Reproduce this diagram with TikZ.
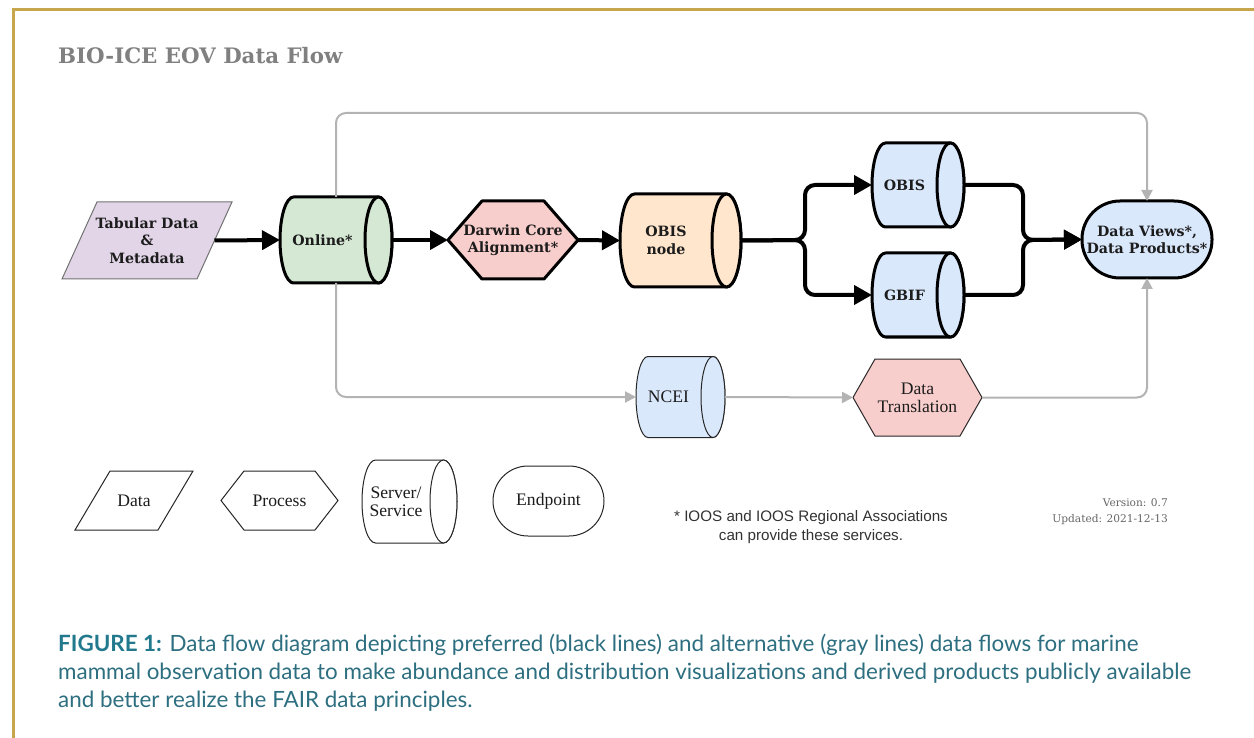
\documentclass[tikz,border=0pt]{standalone}
\usepackage{fontspec}
\setmainfont{DejaVu Serif}
\newfontfamily\lserif{Liberation Serif}
\newfontfamily\lsans{Liberation Sans}
\newfontfamily\capfont{Lato}
\usetikzlibrary{arrows.meta}
\definecolor{gold}{HTML}{C8A64E}
\definecolor{altgray}{HTML}{B3B3B3}
\definecolor{titlegray}{HTML}{808080}
\definecolor{teal}{HTML}{2D6F80}
\definecolor{tealb}{HTML}{22798D}
\definecolor{cgreen}{HTML}{D5E8D4}
\definecolor{cpink}{HTML}{F8CECC}
\definecolor{cpeach}{HTML}{FFE6CC}
\definecolor{cblue}{HTML}{DAE8FC}
\definecolor{clav}{HTML}{E1D5E7}
\definecolor{txt}{HTML}{1C1C1C}

% shape bodies (cx, cy, w, h, extra)
\newcommand\cylbody[5]{({#1-#3/2+#5},{#2-#4/2}) -- ({#1+#3/2-#5},{#2-#4/2})
  arc[start angle=-90,end angle=90,x radius=#5,y radius={#4/2}]
  -- ({#1-#3/2+#5},{#2+#4/2})
  arc[start angle=90,end angle=270,x radius=#5,y radius={#4/2}] -- cycle}
\newcommand\hexbody[5]{({#1-#3/2},{#2}) -- ({#1-#3/2+#5},{#2-#4/2}) -- ({#1+#3/2-#5},{#2-#4/2})
  -- ({#1+#3/2},{#2}) -- ({#1+#3/2-#5},{#2+#4/2}) -- ({#1-#3/2+#5},{#2+#4/2}) -- cycle}
\newcommand\parbody[5]{({#1-#3/2-#5/2},{#2+#4/2}) -- ({#1-#3/2+#5/2},{#2-#4/2})
  -- ({#1+#3/2+#5/2},{#2-#4/2}) -- ({#1+#3/2-#5/2},{#2+#4/2}) -- cycle}

% #1 name, #2 cx, #3 cy, #4 w, #5 h, #6 rx, #7 style, #8 font, #9 text
\newcommand\mycyl[9]{%
  \path[#7] \cylbody{#2}{#3}{#4}{#5}{#6};
  \path[#7] ({#2+#4/2-#6},{#3}) ellipse[x radius=#6,y radius={#5/2}];
  \node[shapebox, minimum width=#4pt, minimum height=#5pt] (#1) at (#2,#3) {};
  \node[lbl, font=#8] (#1-t) at ({#2-#6},#3) {#9};
}
\newcommand\myhex[9]{%
  \path[#7] \hexbody{#2}{#3}{#4}{#5}{#6};
  \node[shapebox, lbl, font=#8, minimum width=#4pt, minimum height=#5pt] (#1) at (#2,#3) {#9};
}
\newcommand\mypar[9]{%
  \path[#7] \parbody{#2}{#3}{#4}{#5}{#6};
  \node[shapebox, lbl, font=#8, minimum width=#4pt, minimum height=#5pt] (#1) at (#2,#3) {#9};
}

\newcommand\fb{\bfseries\fontsize{14.2}{17.5}\selectfont}
\newcommand\fr{\lserif\fontsize{17.6}{18}\selectfont}
\newcommand\fcap{\capfont\fontsize{22.4}{28}\selectfont}

\begin{document}
\begin{tikzpicture}[x=1pt,y=-1pt,
  shapebox/.style={inner sep=0pt, outer sep=0pt},
  lbl/.style={inner sep=0pt, align=center, text=txt},
  thickb/.style={draw=black, line width=3pt, line join=round},
  thinb/.style={draw=black!85, line width=1pt},
  grayb/.style={draw=black!55, line width=1pt},
  flow/.style={draw=black, line width=4pt, rounded corners=10pt, -{Triangle[length=18pt,width=19pt]}},
  alt/.style={draw=altgray, line width=2pt, rounded corners=10pt, -{Triangle[length=11pt,width=11pt]}},
  captxt/.style={anchor=base west, inner sep=0pt, text=teal, font=\fcap},
]
\useasboundingbox (0,0) rectangle (1254,738);
\fill[white] (0,0) rectangle (1254,738);
\draw[gold, line width=3pt] (1254,9.5) -- (13,9.5) -- (13,738);

\node[anchor=base west, text=titlegray, font=\bfseries\fontsize{21.3}{24}\selectfont, inner sep=0] (title) at (58,64) {BIO-ICE EOV Data Flow};

% main row
\mypar{tab}{147}{240.5}{135}{77}{35}{fill=clav, grayb}{\fb}{Tabular Data\\\&\\Metadata}
\mycyl{online}{336}{240}{112}{86}{13.5}{fill=cgreen, thickb}{\fb}{Online*}
\myhex{dwc}{513}{240}{130}{78}{34}{fill=cpink, thickb}{\fb}{Darwin Core\\Alignment*}
\mycyl{obisnode}{680.5}{240.5}{121}{93}{14.5}{fill=cpeach, thickb}{\fb}{OBIS\\node}
\mycyl{obis}{918}{185}{92}{84}{13.5}{fill=cblue, thickb}{\fb}{OBIS}
\mycyl{gbif}{918}{295}{92}{84}{13.5}{fill=cblue, thickb}{\fb}{GBIF}
\node[shapebox, lbl, font=\fb, fill=cblue, thickb, rounded corners=38pt, minimum width=130pt, minimum height=77pt] (views) at (1147,239.5) {Data Views*,\\Data Products*};

% alternative row
\mycyl{ncei}{680.5}{397}{89}{81}{12}{fill=cblue, thinb}{\fr}{NCEI}
\myhex{trans}{917.5}{397.5}{129}{77}{22}{fill=cpink, thinb}{\fr}{Data\\Translation}

% connectors
\coordinate (topline) at (700,113);
\coordinate (split) at (805,240);
\coordinate (merge) at (1023,240);
\draw[flow] (tab.east) -- (online.west);
\draw[flow] (online.east) -- (dwc.west);
\draw[flow] (dwc.east) -- (obisnode.west);
\draw[flow] (obisnode.east) -- (split) |- (obis.west);
\draw[flow] (obisnode.east) -- (split) |- (gbif.west);
\draw[flow] (obis.east) -| (merge) -- (views.west);
\draw[flow] (gbif.east) -| (merge) -- (views.west);

\draw[alt] (online.north) -- (online.north |- topline) -| (views.north);
\draw[alt] (online.south) |- (ncei.west);
\draw[alt] (ncei.east) -- (trans.west);
\draw[alt] (trans.east) -| (views.south);

% legend
\mypar{ldata}{134}{500.5}{83}{59}{35}{fill=white, thinb}{\fr}{Data}
\myhex{lproc}{279.5}{500.5}{117}{59}{23}{fill=white, thinb}{\fr}{Process}
\mycyl{lserv}{409.5}{501.5}{95}{83}{13.5}{fill=white, thinb}{\fr}{Server/\\Service}
\node[shapebox, lbl, font=\fr, fill=white, thinb, rounded corners=35pt, minimum width=111pt, minimum height=70pt] (lend) at (548.5,501) {Endpoint};

\node[anchor=center, align=center, text=black!80, font=\lsans\fontsize{15.2}{19}\selectfont, inner sep=0] (foot) at (811,527) {* IOOS and IOOS Regional Associations\\can provide these services.};
\node[anchor=east, align=right, text=black!60, font=\fontsize{10.6}{16}\selectfont, inner sep=0] (version) at (1168,512) {Version: 0.7\\Updated: 2021-12-13};

% caption
\node[captxt] (cap1) at (58,651) {{\bfseries\color{tealb}FIGURE 1:} Data flow diagram depicting preferred (black lines) and alternative (gray lines) data flows for marine};
\node[captxt] (cap2) at (58,679) {mammal observation data to make abundance and distribution visualizations and derived products publicly available};
\node[captxt] (cap3) at (58,707) {and better realize the FAIR data principles.};
\end{tikzpicture}
\end{document}
